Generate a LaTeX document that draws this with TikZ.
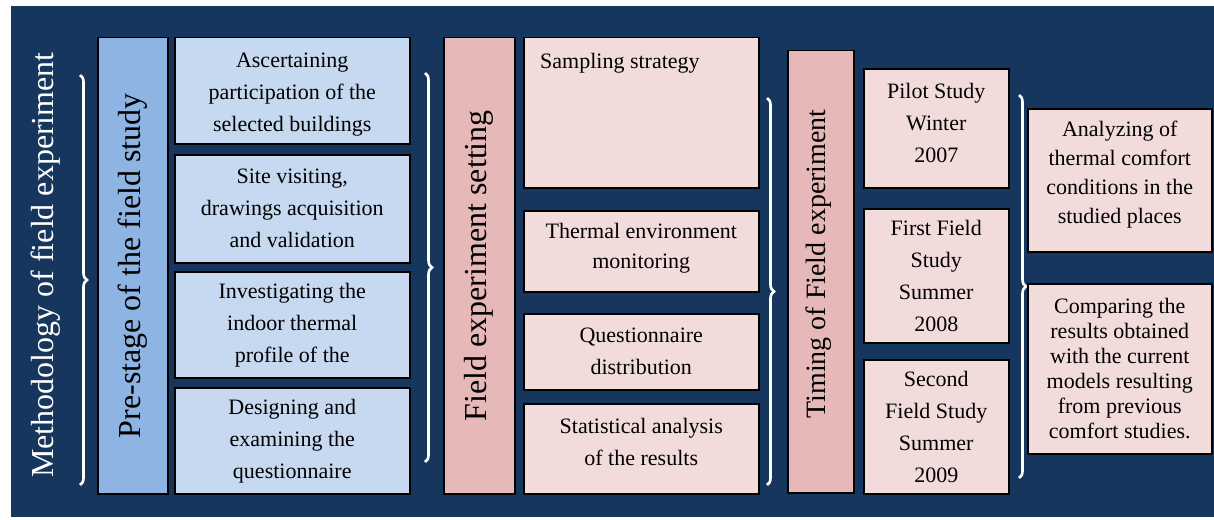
\documentclass[tikz,border=0pt]{standalone}
\usepackage{fontspec}
\setmainfont{Liberation Serif}
\usetikzlibrary{decorations.pathreplacing}
\definecolor{navy}{HTML}{17365D}
\definecolor{blueA}{HTML}{8EB4E3}
\definecolor{blueB}{HTML}{C6D9F1}
\definecolor{pinkA}{HTML}{E6B9B8}
\definecolor{pinkB}{HTML}{F2DCDB}
\begin{document}
\begin{tikzpicture}[x=1pt,y=-1pt,
  box/.style={draw=black, line width=1.5pt, anchor=north west, inner sep=0pt},
  txt/.style={align=center, inner sep=0pt, font=\rmfamily\fontsize{22}{32}\selectfont},
  title/.style={rotate=90, inner sep=0pt, font=\rmfamily\fontsize{32}{36}\selectfont},
  bracebar/.style={draw=white, line width=2.6pt, decorate, decoration={brace, amplitude=7pt}}]
\useasboundingbox (0,0) rectangle (1214,519);
\fill[navy] (11,6) rectangle (1214,517);
% column 1: title
\node[title, text=white] (meth) at (46,265) {Methodology of field experiment};
\coordinate (br1a) at (80,75); \coordinate (br1b) at (80,485);
\draw[bracebar] (br1a) -- (br1b);
% column 2
\node[box, fill=blueA, minimum width=70pt, minimum height=456pt] (pre) at (97,37) {};
\node[title] (pret) at (pre.center) {Pre-stage of the field study};
\node[box, fill=blueB, minimum width=235pt, minimum height=106pt] (a1) at (174,37) {};
\node[txt, yshift=-4pt] (a1t) at (a1.center) {Ascertaining\\participation of the\\selected buildings};
\node[box, fill=blueB, minimum width=235pt, minimum height=108pt] (a2) at (174,154) {};
\node[txt] (a2t) at (a2.center) {Site visiting,\\drawings acquisition\\and validation};
\node[box, fill=blueB, minimum width=235pt, minimum height=106pt] (a3) at (174,271) {};
\node[txt] (a3t) at (a3.center) {Investigating the\\indoor thermal\\profile of the};
\node[box, fill=blueB, minimum width=235pt, minimum height=106pt] (a4) at (174,387) {};
\node[txt] (a4t) at (a4.center) {Designing and\\examining the\\questionnaire};
\coordinate (br2a) at (425,73); \coordinate (br2b) at (425,462);
\draw[bracebar] (br2a) -- (br2b);
% column 3
\node[box, fill=pinkA, minimum width=71pt, minimum height=456pt] (fes) at (443,37) {};
\node[title] (fest) at (fes.center) {Field experiment setting};
\node[box, fill=pinkB, minimum width=235pt, minimum height=150pt] (s1) at (523,37) {};
\node[txt, anchor=west] (s1t) at (540,63) {Sampling strategy};
\node[box, fill=pinkB, minimum width=235pt, minimum height=81pt] (s2) at (523,210) {};
\node[txt, yshift=3pt, font=\rmfamily\fontsize{22}{30}\selectfont] (s2t) at (s2.center) {Thermal environment\\monitoring};
\node[box, fill=pinkB, minimum width=235pt, minimum height=76pt] (s3) at (523,313) {};
\node[txt] (s3t) at (s3.center) {Questionnaire\\distribution};
\node[box, fill=pinkB, minimum width=235pt, minimum height=90pt] (s4) at (523,403) {};
\node[txt, yshift=7pt] (s4t) at (s4.center) {Statistical analysis\\of the results};
\coordinate (br3a) at (767,98); \coordinate (br3b) at (767,485);
\draw[bracebar] (br3a) -- (br3b);
% column 4
\node[box, fill=pinkA, minimum width=66pt, minimum height=442pt] (tim) at (787,50) {};
\node[title, font=\rmfamily\fontsize{28}{32}\selectfont] (timt) at (819,264) {Timing of Field experiment};
\node[box, fill=pinkB, minimum width=145pt, minimum height=119pt] (p1) at (863,68) {};
\node[txt, yshift=5pt] (p1t) at (p1.center) {Pilot Study\\Winter\\2007};
\node[box, fill=pinkB, minimum width=145pt, minimum height=134pt] (p2) at (863,208) {};
\node[txt] (p2t) at (p2.center) {First Field\\Study\\Summer\\2008};
\node[box, fill=pinkB, minimum width=145pt, minimum height=134pt] (p3) at (863,359) {};
\node[txt] (p3t) at (p3.center) {Second\\Field Study\\Summer\\2009};
\coordinate (br4a) at (1019,95); \coordinate (br4b) at (1019,478);
\draw[bracebar] (br4a) -- (br4b);
% column 5
\node[box, fill=pinkB, minimum width=184pt, minimum height=143pt] (r1) at (1027,108) {};
\node[txt, yshift=6pt, font=\rmfamily\fontsize{22}{29}\selectfont] (r1t) at (r1.center) {Analyzing of\\thermal comfort\\conditions in the\\studied places};
\node[box, fill=pinkB, minimum width=184pt, minimum height=170pt] (r2) at (1027,283) {};
\node[txt, font=\rmfamily\fontsize{22}{25}\selectfont] (r2t) at (r2.center) {Comparing the\\results obtained\\with the current\\models resulting\\from previous\\comfort studies.};
\end{tikzpicture}
\end{document}
